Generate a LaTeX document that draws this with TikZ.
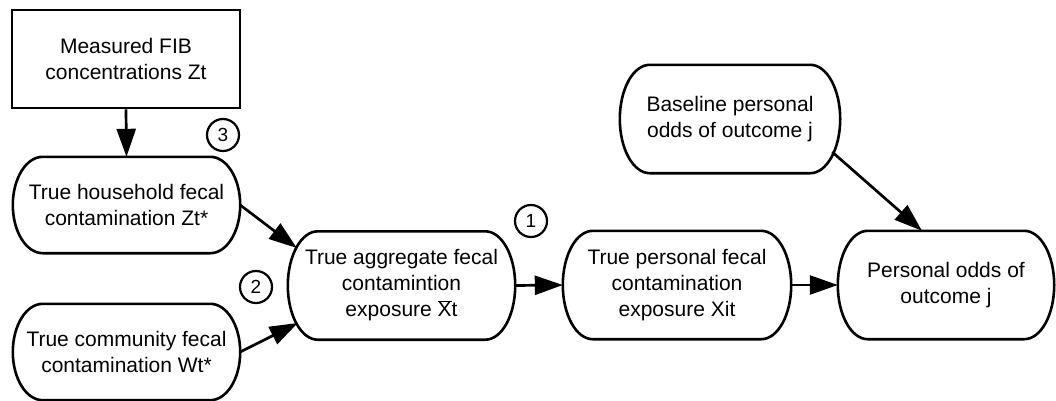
\documentclass[tikz,border=0pt]{standalone}
\usepackage{fontspec}
\setmainfont{Liberation Sans}
\usetikzlibrary{arrows.meta,calc}
\colorlet{box edge}{black}
\tikzset{block/.style={rectangle, draw=box edge, line width=2.6pt, inner sep=0pt,
        minimum width=228pt, minimum height=98pt, align=center},
    stadium/.style={rectangle, inner sep=0pt, minimum width=227pt, minimum height=108pt, align=center},
    outline/.style={draw=box edge, line width=2.6pt},
    number/.style={circle, draw=box edge, line width=2.2pt, inner sep=0pt, minimum size=32pt,
        font=\fontsize{19}{19}\selectfont},
    link/.style={-{Triangle[length=28pt,width=19pt]}, line width=2.7pt}}

\begin{document}
\begin{tikzpicture}[x=1pt, y=1pt, font=\fontsize{21}{26}\selectfont]
    \useasboundingbox (0,0) rectangle (1056,400);
    \node[block] (fib) at (126,341) {Measured FIB\\concentrations Zt};
    \node[stadium, minimum height=96pt] (house) at (126.5,195) {True household fecal\\contamination Zt*};
    \node[stadium, minimum height=96pt] (comm) at (126.5,48) {True community fecal\\contamination Wt*};
    \node[stadium] (agg) at (401.5,114.5) {True aggregate fecal\\contamintion\\exposure $\overline{\mbox{X}}$t};
    \node[stadium, minimum width=228pt] (pers) at (677,115) {True personal fecal\\contamination\\exposure Xit};
    \node[stadium, minimum width=216pt] (odds) at (946,115) {Personal odds of\\outcome j};
    \node[stadium, minimum width=220pt] (base) at (730,281) {Baseline personal\\odds of outcome j};
    % stadium borders with flat end arcs
    \foreach \nd in {house,comm,agg,pers,odds,base}
        \draw[outline] let \p1=(\nd.north west), \p2=(\nd.south east) in
            (\x1+30pt,\y1) -- (\x2-30pt,\y1)
            arc[start angle=90, end angle=-90, x radius=30pt, y radius={0.5*(\y1-\y2)}]
            -- (\x1+30pt,\y2)
            arc[start angle=270, end angle=90, x radius=30pt, y radius={0.5*(\y1-\y2)}] -- cycle;
    \node[number] (three) at (223,265) {3};
    \node[number] (two) at (256,113) {2};
    \node[number] (one) at (531,179) {1};
    \draw[link] (fib.south) -- (house.north);
    \draw[link] (house.east) -- ($(agg.west)+(9,37.5)$);
    \draw[link] (comm.east) -- ($(agg.west)+(10,-37.5)$);
    \draw[link] (agg.east) -- (pers.west);
    \draw[link] (pers.east) -- (odds.west);
    \draw[link] ($(base.east)+(-8,-33)$) -- ($(odds.north)+(-24,0)$);
\end{tikzpicture}
\end{document}
